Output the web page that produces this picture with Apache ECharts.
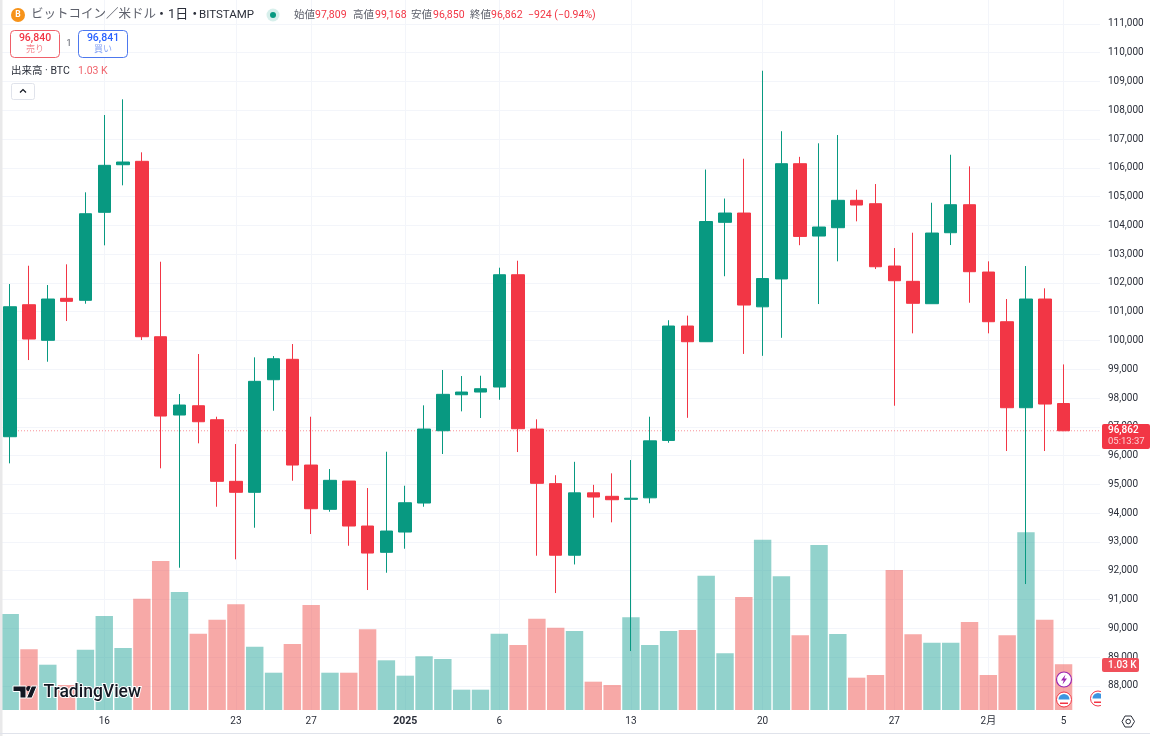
<!DOCTYPE html>
<html>
<head>
<meta charset="utf-8">
<title>BTCUSD</title>
<script src="https://cdn.jsdelivr.net/npm/echarts@6/dist/echarts.min.js"></script>
<style>
  html, body { margin: 0; padding: 0; background: #fff; }
  #chart { width: 1150px; height: 736px; }
</style>
</head>
<body>
<div id="chart"></div>
<script>
const days = [
  '12-11','12-12','12-13','12-14','12-15','12-16','12-17','12-18','12-19','12-20','12-21',
  '12-22','12-23','12-24','12-25','12-26','12-27','12-28','12-29','12-30','12-31',
  '01-01','01-02','01-03','01-04','01-05','01-06','01-07','01-08','01-09','01-10','01-11',
  '01-12','01-13','01-14','01-15','01-16','01-17','01-18','01-19','01-20','01-21','01-22',
  '01-23','01-24','01-25','01-26','01-27','01-28','01-29','01-30','01-31',
  '02-01','02-02','02-03','02-04','02-05','02-06'
];
const tickDays = ['12-16','12-23','12-27','01-01','01-06','01-13','01-20','01-27','02-01','02-05'];
const tickLabels = ['16','23','27','2025','6','13','20','27','2月','5'];

const opens = [
  96655,101242,100005,101464,101395,104453,106107,106225,100130,97409,97732,
  97246,95105,94723,98636,99345,95671,94132,95115,93552,92638,
  93343,94351,96863,98114,98208,98382,102284,96922,95025,92537,94705,
  94584,94480,94532,96526,100502,99956,104105,104428,101169,102138,106142,
  103629,103918,104870,104752,102587,102055,101277,103744,104717,
  102378,100651,97663,101440,97809
];
const closes = [
  101172,100050,101440,101360,104404,106086,106201,100130,97374,97756,97176,
  95105,94723,98580,99365,95671,94153,95140,93552,92613,93378,
  94361,96922,98128,98208,98323,102284,96933,95036,92537,94705,94559,
  94466,94518,96512,100502,99956,104133,104428,101231,102152,106142,103615,
  103942,104870,104706,102562,102076,101291,103733,104717,102389,
  100651,97663,101440,97791,96862
];
const lows = [
  95730,99320,99261,100675,101277,103306,105391,100015,95557,92103,96426,
  94222,92395,93493,97558,95126,93274,94049,92867,91328,91929,
  92763,94222,96054,97537,97305,97941,96123,92520,91223,92217,93840,
  93680,89208,94344,96446,97312,99956,102232,99532,99466,100092,103310,
  101266,102750,104140,102482,97732,100248,101277,103316,101311,
  100248,96158,91536,96158,96850
];
const highs = [
  101961,102597,101926,102646,105148,107834,108380,106538,102736,98139,99529,
  97350,96401,99414,99459,99876,97350,95532,95115,94872,96134,
  94952,97746,98973,98764,98775,102528,102771,97260,95317,95783,94983,
  95383,95845,97350,100703,100863,105940,104932,106315,109373,107271,106381,
  106851,107139,105238,105436,103212,103744,104786,106454,106051,
  102750,101440,102587,101812,99168
];
const volumes = [
  2160,1366,1019,563,1357,2115,1395,2504,3353,2655,1717,
  2032,2378,1424,839,1485,2363,839,839,1816,1118,
  772,1208,1148,457,457,1717,1463,2054,1852,1778,637,
  563,2086,1463,1778,1800,3022,1276,2543,3832,3008,1681,
  3713,1710,727,788,3150,1703,1514,1514,1980,
  788,1681,3998,2032,1030
];
const lastClose = 96862;

const upColor = '#089981';
const downColor = '#f23645';
const textColor = '#2a2e39';
const gridColor = '#f3f5fa';
const uiFont = 'Roboto, "Noto Sans CJK JP", sans-serif';

const candles = opens.map((o, i) => [o, closes[i], lows[i], highs[i]]);
const volumeBars = volumes.map((v, i) => ({
  value: v,
  itemStyle: {
    color: closes[i] >= opens[i] ? 'rgba(38,166,154,0.5)' : 'rgba(239,83,80,0.5)'
  }
}));

const isTick = (idx) => tickDays.indexOf(days[idx]) >= 0;

function txt(x, y, text, size, fill, extra) {
  return {
    type: 'text', x: x, y: y, z: 100,
    style: Object.assign({
      text: text, font: size + 'px ' + uiFont, fill: fill, verticalAlign: 'middle'
    }, extra || {})
  };
}

function box(x, y, w, h, r, fill, stroke) {
  return {
    type: 'rect', z: 99,
    shape: { x: x, y: y, width: w, height: h, r: r },
    style: { fill: fill, stroke: stroke || null, lineWidth: 1 }
  };
}

function usFlag(cx, cy) {
  return [
    { type: 'circle', z: 99, shape: { cx: cx, cy: cy, r: 7.5 }, style: { fill: '#fff', stroke: '#f23645', lineWidth: 1 } },
    { type: 'sector', z: 100, shape: { cx: cx, cy: cy, r: 5.5, startAngle: Math.PI, endAngle: 2 * Math.PI }, style: { fill: '#3d95e0' } },
    { type: 'rect', z: 100, shape: { x: cx - 4, y: cy + 3, width: 8, height: 1.5 }, style: { fill: '#f23645' } }
  ];
}

const graphics = [
  // left edge and bottom edge of the widget
  { type: 'rect', z: 98, shape: { x: 0, y: 0, width: 2.5, height: 736 }, style: { fill: '#e9e9ea' } },
  { type: 'rect', z: 98, shape: { x: 0, y: 733, width: 1150, height: 1 }, style: { fill: '#e0e3eb' } },

  // title row
  { type: 'circle', z: 99, shape: { cx: 18, cy: 15, r: 7 }, style: { fill: '#f7931a' } },
  txt(18, 15, 'B', 8.5, '#fff', { align: 'center', font: 'bold 8.5px ' + uiFont }),
  txt(31, 15, 'ビットコイン／米ドル', 12.5, '#5d606b'),
  txt(155, 15, '・1日・', 13, '#2a2e39'),
  txt(199, 15, 'BITSTAMP', 11.5, '#2a2e39'),
  { type: 'circle', z: 99, shape: { cx: 273, cy: 15, r: 6.5 }, style: { fill: 'rgba(8,153,129,0.16)' } },
  { type: 'circle', z: 100, shape: { cx: 273, cy: 15, r: 3 }, style: { fill: upColor } },
  txt(294, 15, '始値', 10.5, '#5d606b'), txt(315, 15, '97,809', 10.5, downColor),
  txt(353, 15, '高値', 10.5, '#5d606b'), txt(375, 15, '99,168', 10.5, downColor),
  txt(411, 15, '安値', 10.5, '#5d606b'), txt(433, 15, '96,850', 10.5, downColor),
  txt(470, 15, '終値', 10.5, '#5d606b'), txt(491, 15, '96,862', 10.5, downColor),
  txt(528, 15, '−924 (−0.94%)', 10.5, downColor),

  // sell / buy
  box(10.5, 30.5, 49, 27, 4, '#fff', '#ef5f69'),
  txt(35, 38.5, '96,840', 10.5, downColor, { align: 'center', font: '500 10.5px ' + uiFont }),
  txt(35, 50, '売り', 9, '#f5868f', { align: 'center' }),
  txt(69, 44, '1', 9.5, '#5d606b', { align: 'center' }),
  box(78.5, 30.5, 49, 27, 4, '#fff', '#4d78ee'),
  txt(103, 38.5, '96,841', 10.5, '#2962ff', { align: 'center', font: '500 10.5px ' + uiFont }),
  txt(103, 50, '買い', 9, '#85a3f5', { align: 'center' }),

  // volume legend and collapse button
  txt(11, 71, '出来高 · BTC', 10.5, '#2a2e39'),
  txt(78, 71, '1.03 K', 10.5, '#f0636c'),
  box(11.5, 83.5, 23, 16, 2, '#fff', '#e0e3eb'),
  {
    type: 'polyline', z: 100,
    shape: { points: [[20, 92.5], [23, 89.5], [26, 92.5]] },
    style: { stroke: '#131722', lineWidth: 1.2, fill: null }
  },

  // price tags on the scale
  box(1102, 424, 48, 25, 2, '#f23645'),
  txt(1108, 430.5, '96,862', 10, '#fff', { font: '500 10px ' + uiFont }),
  txt(1108, 441.5, '05:13:37', 9.5, '#fbd0d4'),
  box(1102, 658, 37, 14, 2, '#f0505a'),
  txt(1108, 665, '1.03 K', 10, '#fff', { font: '500 10px ' + uiFont }),

  // TradingView logo
  { type: 'polygon', z: 100, shape: { points: [[13, 686], [26, 686], [26, 698], [20, 698], [20, 691.5], [13, 691.5]] }, style: { fill: '#131722', stroke: '#fff', lineWidth: 1 } },
  { type: 'circle', z: 100, shape: { cx: 28.8, cy: 688.5, r: 2.6 }, style: { fill: '#131722' } },
  { type: 'polygon', z: 100, shape: { points: [[31.5, 686], [37, 686], [32, 698], [26.5, 698]] }, style: { fill: '#131722', stroke: '#fff', lineWidth: 1 } },
  txt(43.5, 693, 'TradingView', 17.5, '#131722', { font: '500 17.5px ' + uiFont, stroke: '#fff', lineWidth: 2 }),

  // event markers
  { type: 'circle', z: 99, shape: { cx: 1064, cy: 679.5, r: 7.5 }, style: { fill: '#fff', stroke: '#9c27b0', lineWidth: 1.2 } },
  { type: 'polygon', z: 100, shape: { points: [[1065.5, 674.5], [1061, 680.5], [1063.7, 680.5], [1062.5, 684.5], [1067, 678.5], [1064.3, 678.5]] }, style: { fill: '#9c27b0' } },
  ...usFlag(1064, 699.5),
  ...usFlag(1098, 698.5),
  { type: 'rect', z: 101, shape: { x: 1101, y: 688, width: 9, height: 21 }, style: { fill: '#fff' } },

  // settings gear
  {
    type: 'polygon', z: 100,
    shape: { points: [[1134.5, 721.5], [1131.2, 727], [1125, 727], [1122, 721.5], [1125, 716], [1131.2, 716]] },
    style: { fill: null, stroke: '#2a2e39', lineWidth: 1 }
  },
  { type: 'circle', z: 100, shape: { cx: 1128.2, cy: 721.5, r: 2.3 }, style: { fill: null, stroke: '#2a2e39', lineWidth: 1 } }
];

const chart = echarts.init(document.getElementById('chart'), null, { renderer: 'canvas' });

chart.setOption({
  animation: false,
  backgroundColor: '#ffffff',
  grid: [
    // full width: horizontal price lines and the scale labels
    { left: 0, top: 23.9, width: 1100, height: 661.9 },
    // candles and volume
    { left: 0.8, top: 0, width: 1091, height: 710 }
  ],
  xAxis: [
    { gridIndex: 0, type: 'value', min: 0, max: 1, show: false },
    {
      gridIndex: 1,
      type: 'category',
      data: days,
      boundaryGap: true,
      axisLine: { show: false },
      axisTick: { show: false },
      axisLabel: {
        interval: (idx) => isTick(idx),
        margin: 6,
        color: textColor,
        fontFamily: uiFont,
        fontSize: 10,
        formatter: (v) => {
          const t = tickLabels[tickDays.indexOf(v)];
          return t === '2025' ? '{b|' + t + '}' : t;
        },
        rich: { b: { fontWeight: 'bold', fontSize: 10.5, fontFamily: uiFont, color: textColor } }
      },
      splitLine: {
        show: true,
        alignWithLabel: true,
        interval: (idx) => isTick(idx),
        lineStyle: { color: gridColor, width: 1 }
      }
    }
  ],
  yAxis: [
    {
      gridIndex: 0,
      type: 'value',
      position: 'right',
      min: 88000,
      max: 111000,
      interval: 1000,
      axisLine: { show: false },
      axisTick: { show: false },
      axisLabel: {
        margin: 8,
        color: textColor,
        fontFamily: uiFont,
        fontSize: 10,
        formatter: (v) => v.toLocaleString('en-US')
      },
      splitLine: { show: true, lineStyle: { color: gridColor, width: 1 } }
    },
    { gridIndex: 1, type: 'value', min: 87159, max: 111831, show: false },
    { gridIndex: 1, type: 'value', min: 0, max: 15975, show: false }
  ],
  series: [
    {
      name: 'last',
      type: 'line',
      xAxisIndex: 0,
      yAxisIndex: 0,
      z: 1,
      showSymbol: false,
      silent: true,
      lineStyle: { color: 'rgba(242,54,69,0.55)', width: 1, type: [1, 2] },
      data: [[0, lastClose], [1, lastClose]]
    },
    {
      name: '出来高',
      type: 'bar',
      xAxisIndex: 1,
      yAxisIndex: 2,
      z: 2,
      barWidth: 17.4,
      data: volumeBars
    },
    {
      name: 'BTCUSD',
      type: 'candlestick',
      xAxisIndex: 1,
      yAxisIndex: 1,
      z: 3,
      barWidth: 13,
      itemStyle: {
        color: upColor,
        color0: downColor,
        borderColor: upColor,
        borderColor0: downColor,
        borderWidth: 1
      },
      data: candles
    }
  ],
  graphic: { elements: graphics }
});
</script>
</body>
</html>
